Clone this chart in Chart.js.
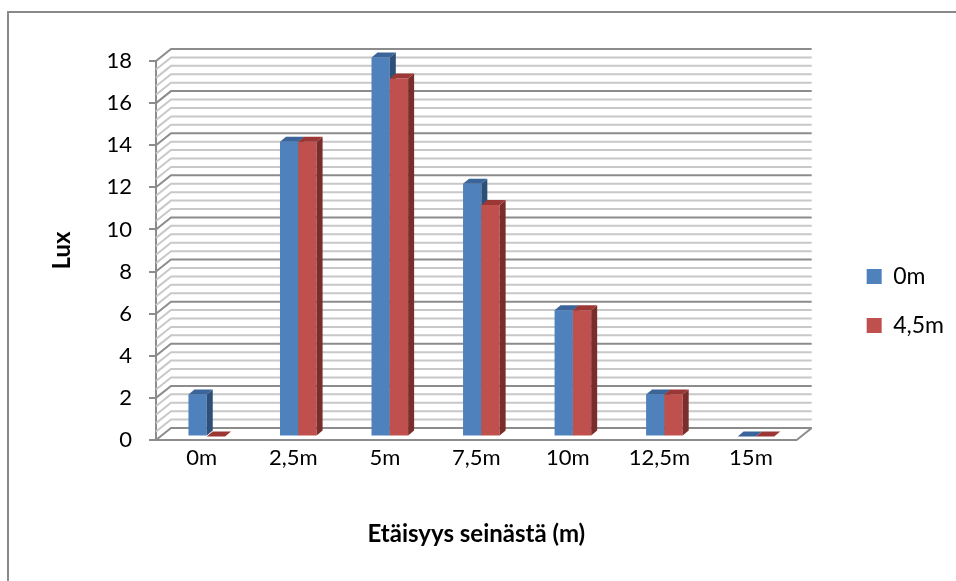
<!DOCTYPE html>
<html>
<head>
<meta charset="utf-8">
<title>Lux</title>
<script src="https://cdn.jsdelivr.net/npm/chart.js@4/dist/chart.umd.min.js"></script>
<style>
  html, body { margin: 0; padding: 0; background: #ffffff; }
  #wrap { width: 956px; height: 581px; position: relative; }
</style>
</head>
<body>
<div id="wrap"><canvas id="chart" width="956" height="581"></canvas></div>
<script>
// Measured illuminance (lux) by distance from the wall
const categories = ['0m', '2,5m', '5m', '7,5m', '10m', '12,5m', '15m'];
const lux0m = [2, 14, 18, 12, 6, 2, 0];
const lux45m = [0, 14, 17, 11, 6, 2, 0];
const seriesNames = ['0m', '4,5m'];
const yMin = 0, yMax = 18, yStep = 2;

const FONT = 'Lato, "Liberation Sans", sans-serif';

// 3D box depth (back wall offset) and bar depth
const WALL = { dx: 15, dy: -12, minorStep: 0.4 };
const BAR = { dx: 6, dy: -5, shiftX: 5, shiftY: -3.5 };
const FACES = [
  { side: '#2E5078', top: '#3B659A' },
  { side: '#7A2E2C', top: '#9B3835' }
];

const box3d = {
  id: 'box3d',
  beforeDraw(chart) {
    // outer frame (top and left edges)
    const ctx = chart.ctx;
    ctx.save();
    ctx.strokeStyle = '#898989';
    ctx.lineWidth = 2;
    ctx.beginPath();
    ctx.moveTo(8, 581);
    ctx.lineTo(8, 12);
    ctx.lineTo(956, 12);
    ctx.stroke();
    ctx.restore();
  },
  beforeDatasetsDraw(chart) {
    const { ctx, chartArea: a, scales: { y } } = chart;
    ctx.save();
    ctx.lineWidth = 2;
    // side wall diagonals and back wall gridlines
    const n = Math.round((y.max - y.min) / WALL.minorStep);
    for (let i = 0; i <= n; i++) {
      const py = y.getPixelForValue(y.min + i * WALL.minorStep);
      ctx.strokeStyle = (i % 5 === 0) ? '#8c8c8c' : '#c8c8c8';
      ctx.beginPath();
      ctx.moveTo(a.left, py);
      ctx.lineTo(a.left + WALL.dx, py + WALL.dy);
      ctx.lineTo(a.right + WALL.dx, py + WALL.dy);
      ctx.stroke();
    }
    // floor right edge
    ctx.strokeStyle = '#8c8c8c';
    ctx.beginPath();
    ctx.moveTo(a.right, a.bottom);
    ctx.lineTo(a.right + WALL.dx, a.bottom + WALL.dy);
    ctx.stroke();
    ctx.restore();

    // bars with side and top faces, drawn per category so that
    // each bar's front covers its left neighbour's side face
    ctx.save();
    ctx.translate(BAR.shiftX, BAR.shiftY);
    const metas = chart.data.datasets.map((d, i) => chart.getDatasetMeta(i));
    categories.forEach((c, j) => {
      metas.forEach((meta, i) => {
        const el = meta.data[j];
        if (!el) return;
        el.draw(ctx, a);
        const { x, y: top, base, width } = el.getProps(['x', 'y', 'base', 'width'], true);
        const x0 = x - width / 2, x1 = x + width / 2;
        ctx.fillStyle = FACES[i].side;
        ctx.beginPath();
        ctx.moveTo(x1, top);
        ctx.lineTo(x1 + BAR.dx, top + BAR.dy);
        ctx.lineTo(x1 + BAR.dx, base + BAR.dy);
        ctx.lineTo(x1, base);
        ctx.closePath();
        ctx.fill();
        ctx.fillStyle = FACES[i].top;
        ctx.beginPath();
        ctx.moveTo(x0, top);
        ctx.lineTo(x1, top);
        ctx.lineTo(x1 + BAR.dx, top + BAR.dy);
        ctx.lineTo(x0 + BAR.dx, top + BAR.dy);
        ctx.closePath();
        ctx.fill();
      });
    });
    ctx.restore();
    return false;
  }
};

new Chart(document.getElementById('chart'), {
  type: 'bar',
  data: {
    labels: categories,
    datasets: [
      { label: seriesNames[0], data: lux0m, backgroundColor: '#4F81BD', borderWidth: 0 },
      { label: seriesNames[1], data: lux45m, backgroundColor: '#C0504D', borderWidth: 0 }
    ]
  },
  options: {
    responsive: false,
    devicePixelRatio: 1,
    animation: false,
    events: [],
    datasets: { bar: { barPercentage: 1, categoryPercentage: 0.4 } },
    layout: { padding: { left: 0, top: 61, right: 2, bottom: 40 } },
    plugins: {
      tooltip: { enabled: false },
      legend: {
        position: 'right',
        align: 'center',
        labels: {
          font: { family: FONT, size: 23 },
          color: '#000000',
          boxWidth: 15,
          boxHeight: 15,
          padding: 26
        }
      }
    },
    scales: {
      x: {
        grid: { display: true, drawOnChartArea: false, drawTicks: false },
        border: { display: true, color: '#8c8c8c', width: 2 },
        ticks: { font: { family: FONT, size: 22 }, color: '#000000', padding: 5, maxRotation: 0 },
        title: {
          display: true,
          text: 'Etäisyys seinästä (m)',
          font: { family: FONT, size: 24, weight: 'bold' },
          color: '#000000',
          padding: { top: 0, bottom: -7.4 }
        },
        afterFit(s) { s.height = 101; }
      },
      y: {
        min: yMin,
        max: yMax,
        ticks: { stepSize: yStep, font: { family: FONT, size: 22 }, color: '#000000', padding: 17 },
        grid: { display: true, drawOnChartArea: false, drawTicks: true, tickLength: 7, color: '#8c8c8c', lineWidth: 2 },
        border: { display: true, color: '#8c8c8c', width: 2 },
        title: {
          display: true,
          text: 'Lux',
          font: { family: FONT, size: 24, weight: 'bold' },
          color: '#000000',
          padding: { top: 47.6, bottom: 0 }
        },
        afterFit(s) { s.width = 156; }
      },
      gap: {
        type: 'linear',
        position: 'right',
        display: true,
        grid: { display: false },
        border: { display: false },
        ticks: { display: false },
        afterFit(s) { s.width = 44; }
      }
    }
  },
  plugins: [box3d]
});
</script>
</body>
</html>
